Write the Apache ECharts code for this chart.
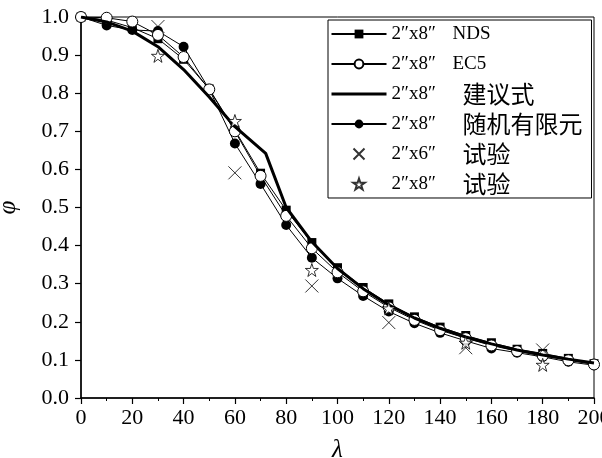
<!DOCTYPE html>
<html>
<head>
<meta charset="utf-8">
<script src="https://cdn.jsdelivr.net/npm/echarts@6/dist/echarts.min.js"></script>
<style>
html,body{margin:0;padding:0;background:#fff;}
#chart{width:602px;height:458px;}
</style>
</head>
<body>
<div id="chart"></div>
<script>
// ---- data ----
var lambdas = [0,10,20,30,40,50,60,70,80,90,100,110,120,130,140,150,160,170,180,190,200];
var ndsVals  = [1.000,0.992,0.972,0.943,0.889,0.811,0.703,0.590,0.493,0.408,0.342,0.290,0.247,0.213,0.186,0.164,0.145,0.128,0.117,0.104,0.090];
var ec5Vals  = [1.000,0.998,0.988,0.953,0.895,0.810,0.700,0.583,0.478,0.393,0.330,0.280,0.238,0.205,0.178,0.157,0.138,0.123,0.111,0.099,0.088];
var sfemVals = [1.000,0.978,0.966,0.963,0.922,0.810,0.668,0.562,0.454,0.368,0.314,0.268,0.227,0.196,0.171,0.150,0.130,0.119,0.108,0.095,0.086];
var propLambdas = [0,10,20,30,40,50,60,72,80,90,100,110,120,130,140,150,160,170,180,190,200];
var propVals    = [1.000,0.987,0.963,0.922,0.862,0.790,0.712,0.642,0.500,0.410,0.340,0.287,0.244,0.210,0.183,0.160,0.142,0.126,0.113,0.102,0.092];
var testLambdas = [30,60,90,120,150,180];
var test26Vals  = [0.975,0.591,0.294,0.198,0.132,0.126];
var test28Vals  = [0.898,0.727,0.336,0.235,0.145,0.087];
var sizes    = ['2\u2033x8\u2033','2\u2033x8\u2033','2\u2033x8\u2033','2\u2033x8\u2033','2\u2033x6\u2033','2\u2033x8\u2033'];
var suffixes = ['NDS','EC5','建议式','随机有限元','试验','试验'];
var names = sizes.map(function(s,i){return s+' '+suffixes[i];});
var xTicks = {min:0,max:200,interval:20};
var yTicks = {min:0,max:1,interval:0.1};

function pairs(xs, ys){ return xs.map(function(x,i){return [x, ys[i]];}); }

var FONT = "'Liberation Serif','Times New Roman','Noto Sans CJK SC',serif";
var CJK = "'Noto Sans CJK SC','Liberation Serif',sans-serif";
var starPath = 'path://M50,0 L61.8,35.4 L99,35.4 L69,57.3 L80.3,92.7 L50,70.8 L19.7,92.7 L31,57.3 L1,35.4 L38.2,35.4 Z';
var xPath = 'path://M0,0 L10,10 M10,0 L0,10';

function legendFmt(name){
  var i = names.indexOf(name);
  var suf = suffixes[i];
  var isCjk = /[\u4e00-\u9fff]/.test(suf);
  // Latin rows get a trailing invisible full-width space so every row has the same height
  return '{p|' + sizes[i] + '}' + (isCjk ? '{c|' + suf + '}' : '{l|' + suf + '}{c|\u3000}');
}

var chart = echarts.init(document.getElementById('chart'), null, {renderer:'canvas'});
chart.setOption({
  animation:false,
  backgroundColor:'#fff',
  textStyle:{fontFamily:FONT,color:'#000'},
  grid:{left:81,right:8,top:17,bottom:60,show:true,borderColor:'#000',borderWidth:1,
        backgroundColor:'transparent',containLabel:false,outerBoundsMode:'none'},
  xAxis:{
    type:'value',min:xTicks.min,max:xTicks.max,interval:xTicks.interval,
    name:'λ',nameLocation:'middle',nameGap:40,
    nameTextStyle:{fontFamily:FONT,fontStyle:'italic',fontSize:25,color:'#000'},
    axisLine:{show:true,onZero:false,lineStyle:{color:'#000',width:1.5}},
    axisTick:{show:true,inside:false,length:6,lineStyle:{color:'#000',width:1.2}},
    minorTick:{show:true,splitNumber:2,length:3,lineStyle:{color:'#000',width:1}},
    splitLine:{show:false},
    axisLabel:{fontFamily:FONT,fontSize:22,color:'#000',margin:9,hideOverlap:false}
  },
  yAxis:{
    type:'value',min:yTicks.min,max:yTicks.max,interval:yTicks.interval,
    name:'φ',nameLocation:'middle',nameGap:60,nameRotate:90,
    nameTextStyle:{fontFamily:FONT,fontStyle:'italic',fontSize:25,color:'#000'},
    axisLine:{show:true,onZero:false,lineStyle:{color:'#000',width:1.5}},
    axisTick:{show:true,inside:false,length:6,lineStyle:{color:'#000',width:1.2}},
    splitLine:{show:false},
    axisLabel:{fontFamily:FONT,fontSize:22,color:'#000',margin:12,formatter:function(v){return v.toFixed(1);}}
  },
  legend:{
    orient:'vertical',left:328,top:20,
    padding:[2,9,2,2],itemGap:6,itemWidth:55,itemHeight:11,
    borderColor:'#000',borderWidth:1,backgroundColor:'#fff',
    formatter:legendFmt,
    textStyle:{fontFamily:FONT,fontSize:19,color:'#000',
      rich:{
        p:{fontFamily:FONT,fontSize:19,width:61,color:'#000'},
        l:{fontFamily:FONT,fontSize:19,color:'#000'},
        c:{fontFamily:CJK,fontSize:24,padding:[0,0,0,10],color:'#000'}
      }},
    data:[
      {name:names[0]},
      {name:names[1]},
      {name:names[2],itemStyle:{opacity:0},lineStyle:{width:3}},
      {name:names[3]},
      {name:names[4]},
      {name:names[5]}
    ]
  },
  series:[
    {name:names[0],type:'line',data:pairs(lambdas,ndsVals),symbol:'rect',symbolSize:9,
      lineStyle:{color:'#000',width:1},itemStyle:{color:'#000'},z:3},
    {name:names[1],type:'line',data:pairs(lambdas,ec5Vals),symbol:'circle',symbolSize:11,
      lineStyle:{color:'#000',width:1},itemStyle:{color:'#fff',borderColor:'#000',borderWidth:1},z:4},
    {name:names[2],type:'line',data:pairs(propLambdas,propVals),symbol:'none',showSymbol:false,
      lineStyle:{color:'#000',width:3},itemStyle:{color:'#000'},z:5},
    {name:names[3],type:'line',data:pairs(lambdas,sfemVals),symbol:'circle',symbolSize:10,
      lineStyle:{color:'#000',width:1},itemStyle:{color:'#000'},z:3},
    {name:names[4],type:'scatter',data:pairs(testLambdas,test26Vals),symbol:xPath,symbolSize:13,
      itemStyle:{color:'rgba(0,0,0,0)',borderColor:'#000',borderWidth:1},z:6},
    {name:names[5],type:'scatter',data:pairs(testLambdas,test28Vals),symbol:starPath,symbolSize:13,
      itemStyle:{color:'#fff',borderColor:'#000',borderWidth:1},z:6}
  ]
});
</script>
</body>
</html>
